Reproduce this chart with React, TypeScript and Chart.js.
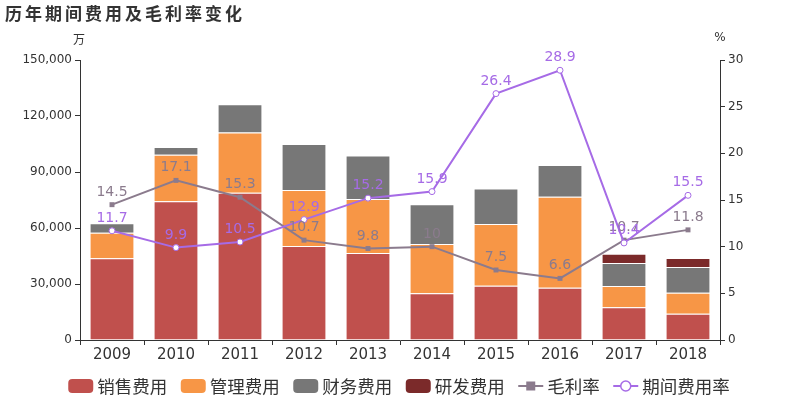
import React, { useEffect, useRef } from "react";
import { Chart, registerables } from "chart.js";

Chart.register(...registerables);

const years = ["2009", "2010", "2011", "2012", "2013", "2014", "2015", "2016", "2017", "2018"];
const salesExp = [43800, 74300, 78900, 50400, 46600, 25000, 29100, 28000, 17500, 14100];
const mgmtExp = [13700, 25000, 32200, 30000, 28900, 26400, 33000, 48800, 11400, 11200];
const finExp = [5000, 4100, 15200, 24600, 23400, 21300, 19000, 16950, 12350, 13800];
const rdExp = [null, null, null, null, null, null, null, null, 5000, 4800];
const grossMargin = [14.5, 17.1, 15.3, 10.7, 9.8, 10, 7.5, 6.6, 10.7, 11.8];
const periodRate = [11.7, 9.9, 10.5, 12.9, 15.2, 15.9, 26.4, 28.9, 10.4, 15.5];
const leftTicks = [0, 30000, 60000, 90000, 120000, 150000];
const rightTicks = [0, 5, 10, 15, 20, 25, 30];

const C_SALES = "#c0504d";
const C_MGMT = "#f79646";
const C_FIN = "#777777";
const C_RD = "#7b2a2a";
const C_GROSS = "#8b7b8d";
const C_PERIOD = "#a66be6";
const TXT = "#333333";
const CJK = "'Noto Sans CJK SC', sans-serif";
const LAT = "'DejaVu Sans', sans-serif";

const overlayPlugin = {
  id: "overlay",
  afterDatasetsDraw(chart: any) {
    const ctx = chart.ctx;
    ctx.save();
    ctx.font = `14px ${LAT}`;
    ctx.textAlign = "center";
    ctx.textBaseline = "alphabetic";
    chart.data.datasets.forEach((ds: any, i: number) => {
      if (ds.type !== "line") return;
      const meta = chart.getDatasetMeta(i);
      ctx.fillStyle = ds.borderColor;
      meta.data.forEach((pt: any, j: number) => {
        const v = ds.data[j];
        if (v == null) return;
        ctx.fillText(String(v), pt.x, pt.y - 9);
      });
    });
    ctx.restore();
  },
  afterDraw(chart: any) {
    const ctx = chart.ctx;
    const area = chart.chartArea;
    ctx.save();
    ctx.fillStyle = TXT;
    ctx.font = `bold 17px ${CJK}`;
    (ctx as any).letterSpacing = "3px";
    ctx.textAlign = "left";
    ctx.textBaseline = "middle";
    ctx.fillText("历年期间费用及毛利率变化", 5, 14);
    (ctx as any).letterSpacing = "0px";
    ctx.font = `12px ${CJK}`;
    ctx.textAlign = "center";
    ctx.fillText("万", area.left - 1, 39);
    ctx.font = `12px ${LAT}`;
    ctx.fillText("%", area.right, 38);

    const items = [
      { label: "销售费用", kind: "box", color: C_SALES },
      { label: "管理费用", kind: "box", color: C_MGMT },
      { label: "财务费用", kind: "box", color: C_FIN },
      { label: "研发费用", kind: "box", color: C_RD },
      { label: "毛利率", kind: "rect", color: C_GROSS },
      { label: "期间费用率", kind: "circle", color: C_PERIOD },
    ];
    ctx.font = `17.5px ${CJK}`;
    const symW = 25, symGap = 4, itemGap = 13.5;
    const widths = items.map((it) => symW + symGap + ctx.measureText(it.label).width);
    const total = widths.reduce((a, b) => a + b, 0) + itemGap * (items.length - 1);
    let x = 399 - total / 2;
    const cy = 386;
    items.forEach((it, k) => {
      if (it.kind === "box") {
        ctx.fillStyle = it.color;
        ctx.beginPath();
        (ctx as any).roundRect(x, cy - 7, symW, 14, 4);
        ctx.fill();
      } else {
        ctx.strokeStyle = it.color;
        ctx.lineWidth = 2;
        ctx.beginPath();
        ctx.moveTo(x, cy);
        ctx.lineTo(x + symW, cy);
        ctx.stroke();
        if (it.kind === "rect") {
          ctx.fillStyle = it.color;
          ctx.fillRect(x + symW / 2 - 4.5, cy - 4.5, 9, 9);
        } else {
          ctx.fillStyle = "#fff";
          ctx.lineWidth = 1.5;
          ctx.beginPath();
          ctx.arc(x + symW / 2, cy, 5, 0, Math.PI * 2);
          ctx.fill();
          ctx.stroke();
        }
      }
      ctx.fillStyle = TXT;
      ctx.textAlign = "left";
      ctx.textBaseline = "middle";
      ctx.fillText(it.label, x + symW + symGap, cy);
      x += widths[k] + itemGap;
    });
    ctx.restore();
  },
};

export default function App() {
  const ref = useRef<HTMLCanvasElement | null>(null);
  useEffect(() => {
    if (!ref.current) return;
    const barCommon = {
      type: "bar" as const,
      yAxisID: "y",
      stack: "s",
      borderWidth: 1,
      borderColor: "rgba(255,255,255,0.55)",
      barPercentage: 0.7,
      categoryPercentage: 1,
      order: 2,
    };
    const chart = new Chart(ref.current, {
      type: "bar",
      data: {
        labels: years,
        datasets: [
          { ...barCommon, label: "销售费用", data: salesExp, backgroundColor: C_SALES },
          { ...barCommon, label: "管理费用", data: mgmtExp, backgroundColor: C_MGMT },
          { ...barCommon, label: "财务费用", data: finExp, backgroundColor: C_FIN },
          { ...barCommon, label: "研发费用", data: rdExp as any, backgroundColor: C_RD },
          {
            type: "line",
            label: "毛利率",
            data: grossMargin,
            yAxisID: "y1",
            borderColor: C_GROSS,
            backgroundColor: C_GROSS,
            borderWidth: 2,
            pointStyle: "rect",
            pointRadius: 3.5,
            pointBorderWidth: 0,
            tension: 0,
            order: 1,
          } as any,
          {
            type: "line",
            label: "期间费用率",
            data: periodRate,
            yAxisID: "y1",
            borderColor: C_PERIOD,
            backgroundColor: "#ffffff",
            pointBackgroundColor: "#ffffff",
            pointBorderColor: C_PERIOD,
            borderWidth: 2,
            pointStyle: "circle",
            pointRadius: 3,
            pointBorderWidth: 1,
            tension: 0,
            order: 0,
          } as any,
        ],
      },
      options: {
        responsive: false,
        animation: false,
        devicePixelRatio: 1,
        layout: { padding: { top: 60, left: 0, right: 0, bottom: 0 } },
        plugins: {
          legend: { display: false },
          tooltip: { enabled: false },
          title: { display: false },
        },
        scales: {
          x: {
            stacked: true,
            grid: {
              display: true,
              drawOnChartArea: false,
              drawTicks: true,
              tickLength: 5,
              color: TXT,
              offset: true,
            },
            border: { display: true, color: TXT, width: 1 },
            ticks: { color: TXT, font: { family: "DejaVu Sans", size: 15 }, padding: 1, maxRotation: 0 },
            afterFit(scale: any) {
              scale.height = 60;
            },
          },
          y: {
            type: "linear",
            position: "left",
            stacked: true,
            min: 0,
            max: 150000,
            afterBuildTicks(scale: any) {
              scale.ticks = leftTicks.map((v) => ({ value: v }));
            },
            grid: { display: true, drawOnChartArea: false, drawTicks: true, tickLength: 5, color: TXT },
            border: { display: true, color: TXT, width: 1 },
            ticks: {
              color: TXT,
              font: { family: "DejaVu Sans", size: 12 },
              padding: 3,
              callback: (v: any) => Number(v).toLocaleString("en-US"),
            },
            afterFit(scale: any) {
              scale.width = 80;
            },
          },
          y1: {
            type: "linear",
            position: "right",
            min: 0,
            max: 30,
            afterBuildTicks(scale: any) {
              scale.ticks = rightTicks.map((v) => ({ value: v }));
            },
            grid: { display: true, drawOnChartArea: false, drawTicks: true, tickLength: 5, color: TXT },
            border: { display: true, color: TXT, width: 1 },
            ticks: { color: TXT, font: { family: "DejaVu Sans", size: 12 }, padding: 3 },
            afterFit(scale: any) {
              scale.width = 80;
            },
          },
        },
      },
      plugins: [overlayPlugin],
    });
    return () => chart.destroy();
  }, []);
  return (
    <div style={{ position: "fixed", left: 0, top: 0, width: 800, height: 400, background: "#fff" }}>
      <canvas ref={ref} width={800} height={400} style={{ width: 800, height: 400, display: "block" }} />
    </div>
  );
}
